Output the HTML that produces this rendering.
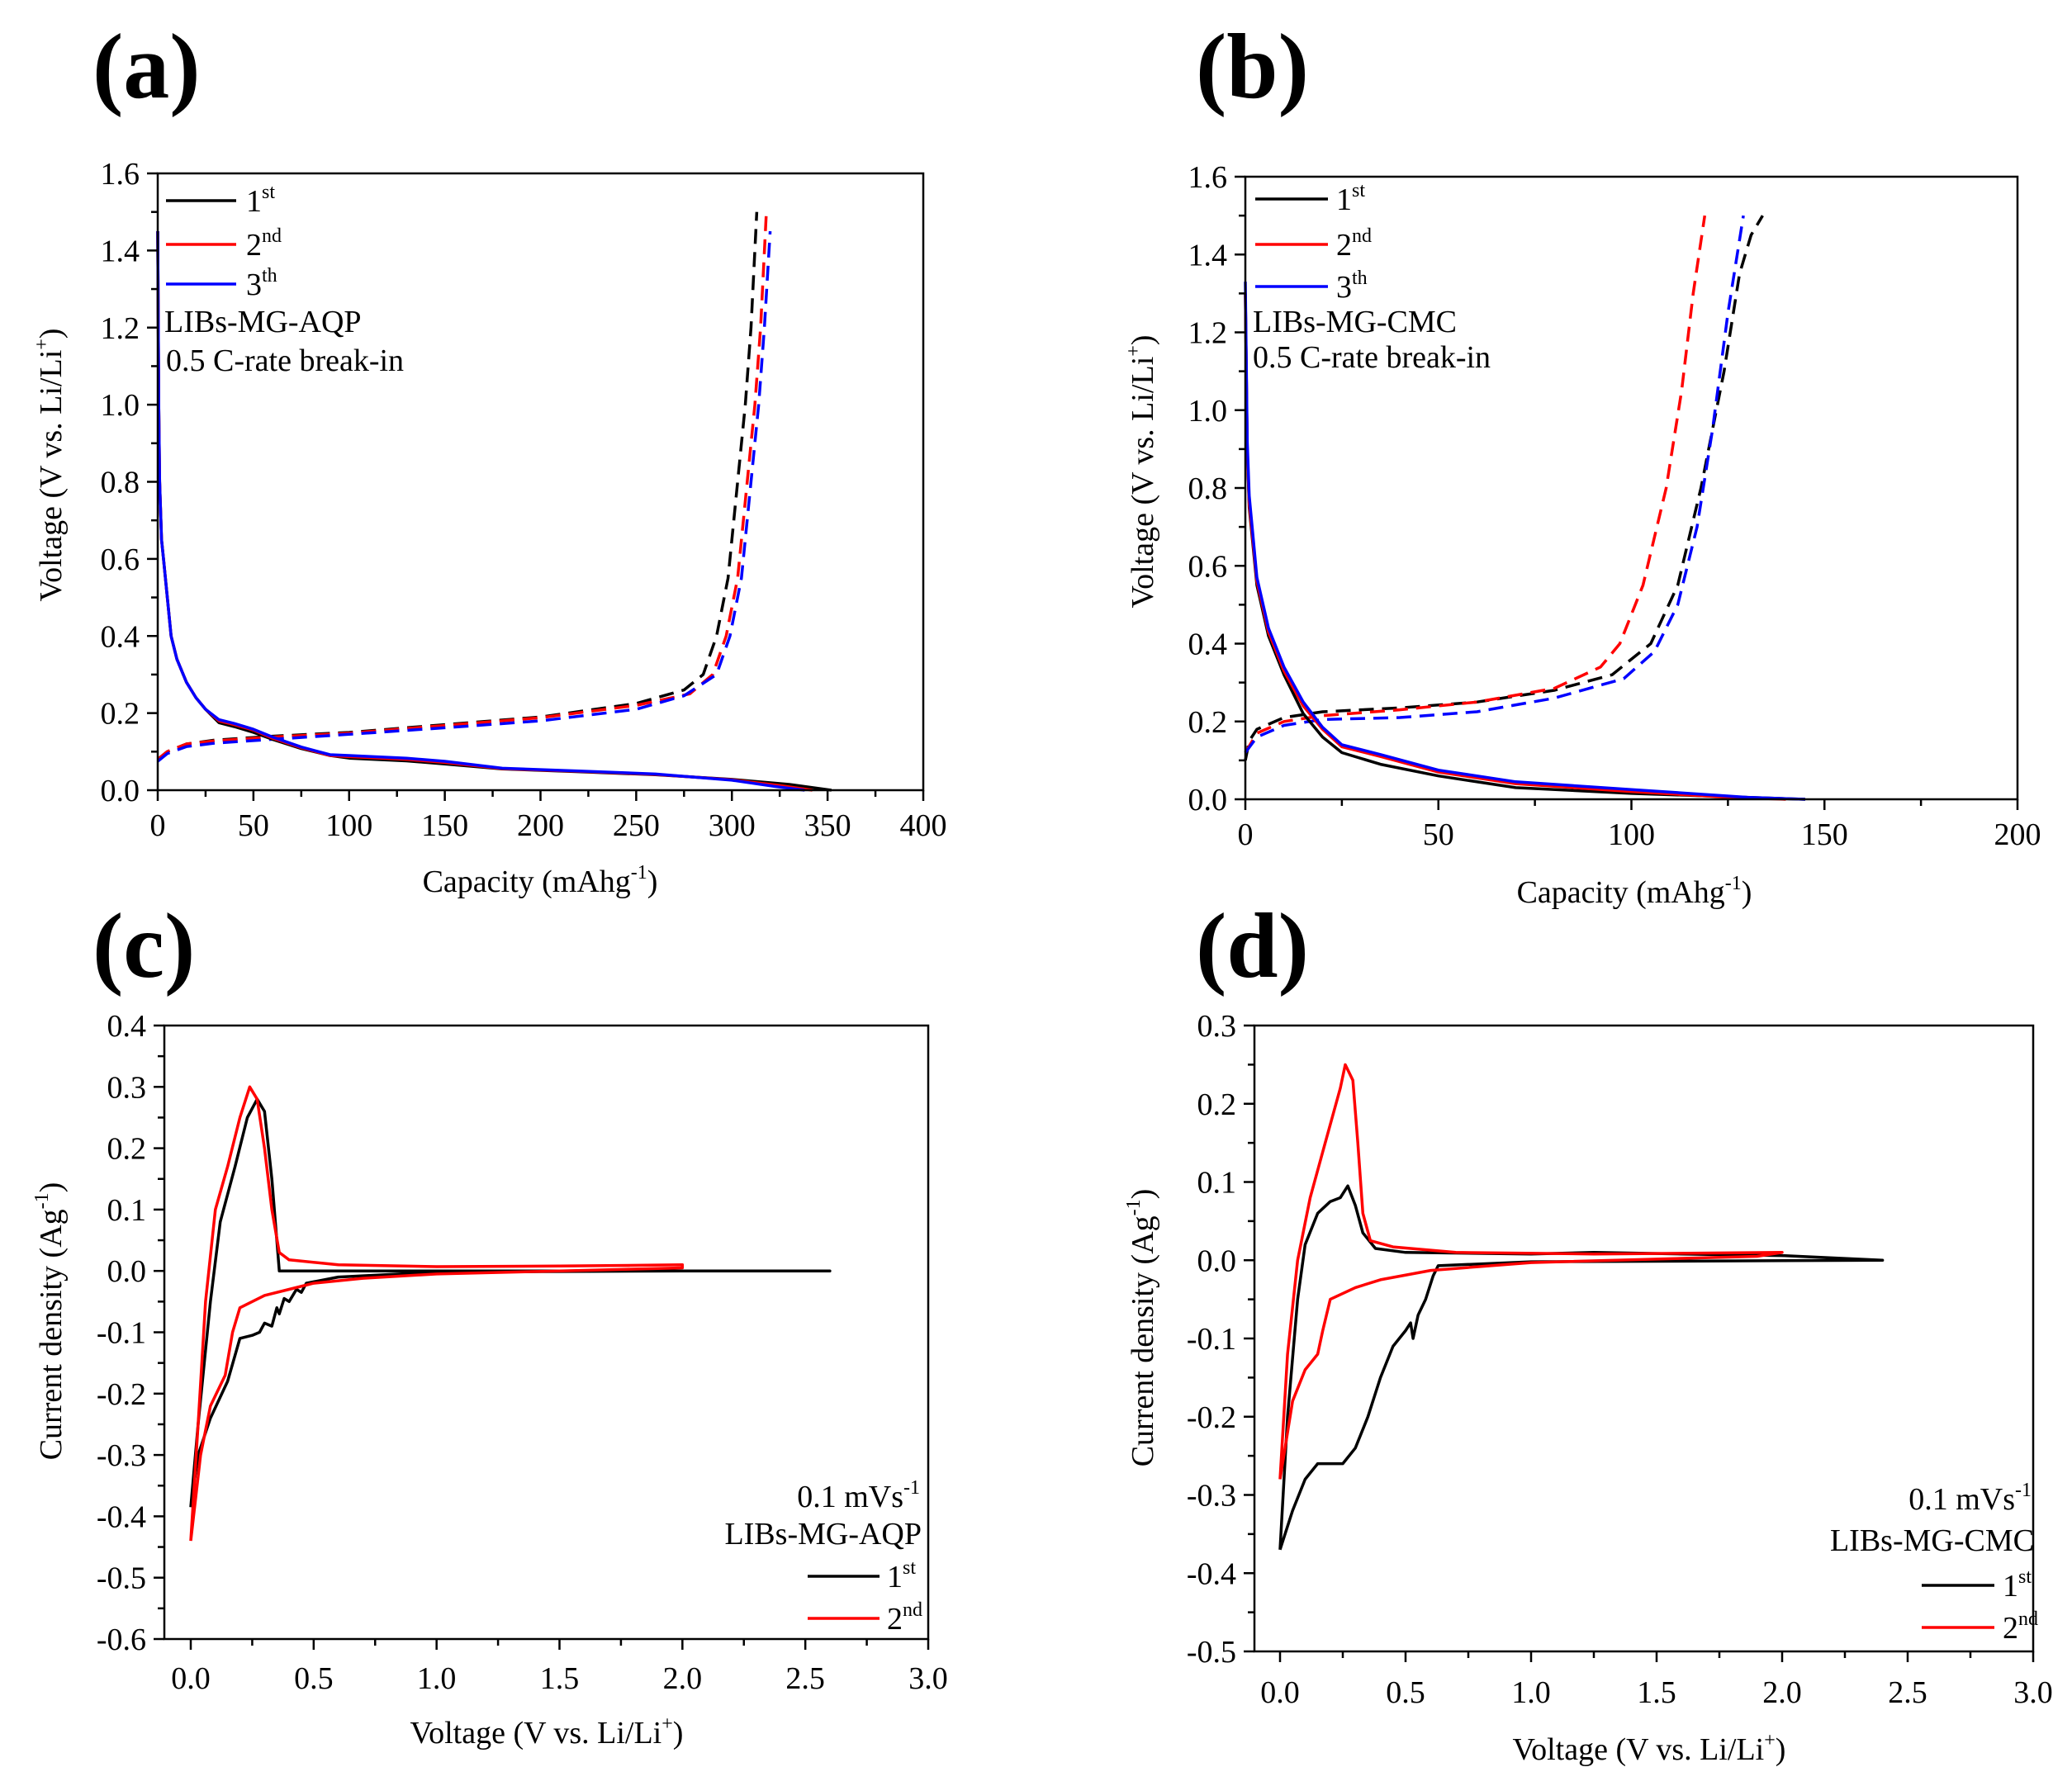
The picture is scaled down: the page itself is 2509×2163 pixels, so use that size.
<!DOCTYPE html>
<html><head><meta charset="utf-8">
<style>
html,body{margin:0;padding:0;background:#fff;}
svg, svg text{font-family:"Liberation Serif",serif;}
svg{display:block;}
</style></head>
<body>
<svg id="fig" width="2509" height="2163" viewBox="0 0 2509 2163" xmlns="http://www.w3.org/2000/svg" font-family="Liberation Serif, serif">
<rect width="2509" height="2163" fill="#fff"/>
<text x="112" y="118" font-size="112" font-weight="bold">(a)</text>
<text x="1448" y="118" font-size="112" font-weight="bold">(b)</text>
<text x="112" y="1183" font-size="112" font-weight="bold">(c)</text>
<text x="1448" y="1183" font-size="112" font-weight="bold">(d)</text>
</svg>
<script>
// ---- Panel (a) data: capacity (mAh/g) vs voltage ----
const aDis1X=[0,0.5,1,2,3,5,7,10,15,20,25,32,40,50,60,75,90,100,130,150,180,220,260,300,330,352];
const aDis1Y=[1.45,1.0,0.8,0.65,0.6,0.5,0.4,0.34,0.28,0.24,0.21,0.175,0.165,0.15,0.132,0.108,0.09,0.083,0.076,0.068,0.055,0.048,0.04,0.028,0.015,0];
const aDis2X=[0,0.5,1,2,3,5,7,10,15,20,25,32,40,50,60,75,90,100,130,150,180,220,260,300,325,342];
const aDis2Y=[1.45,1.0,0.8,0.65,0.6,0.5,0.4,0.34,0.28,0.24,0.21,0.18,0.17,0.156,0.135,0.11,0.09,0.087,0.08,0.072,0.056,0.049,0.041,0.027,0.012,0];
const aDis3X=[0,0.5,1,2,3,5,7,10,15,20,25,32,40,50,60,75,90,100,130,150,180,220,260,300,322,338];
const aDis3Y=[1.45,1.0,0.8,0.65,0.6,0.5,0.4,0.34,0.28,0.24,0.21,0.183,0.173,0.158,0.138,0.112,0.092,0.09,0.083,0.075,0.057,0.05,0.042,0.026,0.01,0];
const aCh1X=[0,5,15,30,60,100,150,200,250,275,285,292,298,303,307,310,313];
const aCh1Y=[0.08,0.1,0.12,0.13,0.14,0.15,0.17,0.19,0.225,0.26,0.3,0.4,0.55,0.8,1.0,1.2,1.5];
const aCh2X=[0,5,15,30,60,100,150,200,250,278,290,297,303,308,312,315,318];
const aCh2Y=[0.08,0.1,0.12,0.128,0.138,0.148,0.168,0.188,0.22,0.25,0.3,0.4,0.55,0.8,1.0,1.2,1.5];
const aCh3X=[0,5,15,30,60,100,150,200,250,275,292,299,305,310,314,317,320];
const aCh3Y=[0.075,0.095,0.113,0.122,0.132,0.145,0.162,0.18,0.21,0.245,0.3,0.4,0.55,0.8,1.0,1.2,1.45];
// ---- Panel (b) data ----
const bDis1X=[0,0.5,1,3,6,10,15,20,25,35,50,70,100,130,145];
const bDis1Y=[1.3,0.9,0.75,0.55,0.42,0.32,0.22,0.16,0.12,0.09,0.06,0.03,0.015,0.005,0];
const bDis2X=[0,0.5,1,3,6,10,15,20,25,35,50,70,100,125,140];
const bDis2Y=[1.3,0.9,0.76,0.56,0.43,0.33,0.24,0.18,0.135,0.11,0.07,0.04,0.02,0.005,0];
const bDis3X=[0,0.5,1,3,6,10,15,20,25,35,50,70,100,130,145];
const bDis3Y=[1.33,0.92,0.78,0.57,0.44,0.34,0.25,0.185,0.14,0.115,0.075,0.045,0.025,0.005,0];
const bCh1X=[0,1,3,10,20,40,60,80,95,105,112,118,124,128,131,134];
const bCh1Y=[0.1,0.15,0.18,0.21,0.225,0.235,0.25,0.28,0.32,0.4,0.55,0.8,1.1,1.35,1.45,1.5];
const bCh2X=[0,3,10,20,40,60,80,92,97,103,109,113,116,119];
const bCh2Y=[0.12,0.17,0.2,0.215,0.23,0.25,0.285,0.34,0.4,0.55,0.8,1.05,1.3,1.5];
const bCh3X=[0,3,10,20,40,60,80,98,106,112,117,121,125,129];
const bCh3Y=[0.12,0.16,0.19,0.205,0.21,0.225,0.26,0.31,0.38,0.5,0.7,0.95,1.25,1.5];
// ---- Panel (c) data: voltage vs current density ----
const cCv1X=[0,0.03,0.08,0.12,0.18,0.23,0.27,0.3,0.33,0.35,0.36,1.0,2.6,2.0,1.0,0.6,0.47,0.45,0.43,0.4,0.38,0.36,0.35,0.33,0.3,0.28,0.25,0.2,0.15,0.08,0.03,0];
const cCv1Y=[-0.385,-0.25,-0.05,0.08,0.17,0.25,0.28,0.26,0.15,0.05,0.0,0.0,0.0,0.0,-0.002,-0.01,-0.02,-0.035,-0.03,-0.05,-0.045,-0.07,-0.06,-0.09,-0.085,-0.1,-0.105,-0.11,-0.18,-0.24,-0.3,-0.385];
const cCv2X=[0,0.03,0.06,0.1,0.15,0.2,0.24,0.27,0.3,0.33,0.36,0.4,0.6,1.0,1.5,2.0,2.0,1.5,1.0,0.7,0.5,0.4,0.3,0.2,0.17,0.14,0.08,0.04,0];
const cCv2Y=[-0.44,-0.25,-0.05,0.1,0.17,0.25,0.3,0.28,0.2,0.1,0.03,0.018,0.01,0.007,0.008,0.01,0.005,0.0,-0.005,-0.012,-0.02,-0.03,-0.04,-0.06,-0.1,-0.17,-0.22,-0.3,-0.44];
// ---- Panel (d) data ----
const dCv1X=[0,0.03,0.07,0.1,0.15,0.2,0.24,0.27,0.3,0.33,0.38,0.5,1.0,1.25,1.6,2.0,2.4,1.0,0.63,0.61,0.58,0.55,0.53,0.52,0.5,0.45,0.4,0.35,0.3,0.25,0.2,0.15,0.1,0.05,0];
const dCv1Y=[-0.37,-0.2,-0.05,0.02,0.06,0.075,0.08,0.095,0.07,0.035,0.015,0.01,0.008,0.01,0.008,0.006,0,-0.002,-0.007,-0.02,-0.05,-0.07,-0.1,-0.08,-0.09,-0.11,-0.15,-0.2,-0.24,-0.26,-0.26,-0.26,-0.28,-0.32,-0.37];
const dCv2X=[0,0.03,0.07,0.12,0.18,0.24,0.26,0.29,0.31,0.33,0.36,0.45,0.7,1.25,2.0,1.9,1.0,0.6,0.4,0.3,0.2,0.17,0.15,0.1,0.05,0];
const dCv2Y=[-0.28,-0.12,0.0,0.08,0.15,0.22,0.25,0.23,0.15,0.06,0.025,0.017,0.01,0.008,0.01,0.005,-0.003,-0.013,-0.025,-0.035,-0.05,-0.09,-0.12,-0.14,-0.18,-0.28];
// ---- tick labels ----
const aXTicks=["0","50","100","150","200","250","300","350","400"];
const aYTicks=["0.0","0.2","0.4","0.6","0.8","1.0","1.2","1.4","1.6"];
const bXTicks=["0","50","100","150","200"];
const bYTicks=["0.0","0.2","0.4","0.6","0.8","1.0","1.2","1.4","1.6"];
const cXTicks=["0.0","0.5","1.0","1.5","2.0","2.5","3.0"];
const cYTicks=["-0.6","-0.5","-0.4","-0.3","-0.2","-0.1","0.0","0.1","0.2","0.3","0.4"];
const dXTicks=["0.0","0.5","1.0","1.5","2.0","2.5","3.0"];
const dYTicks=["-0.5","-0.4","-0.3","-0.2","-0.1","0.0","0.1","0.2","0.3"];

const NS="http://www.w3.org/2000/svg";
const svg=document.getElementById('fig');
function mk(tag,attrs,parent){const e=document.createElementNS(NS,tag);for(const k in attrs)e.setAttribute(k,attrs[k]);(parent||svg).appendChild(e);return e;}
const FF='Liberation Serif, serif';

function panel(p){
  const g=mk('g',{'font-family':FF});
  
  
  const sx=v=>p.px0+(v-p.x0)/(p.x1-p.x0)*(p.px1-p.px0);
  const sy=v=>p.py0+(v-p.y0)/(p.y1-p.y0)*(p.py1-p.py0);
  const L=p.fl, R=p.fr, T=sy(p.y1), B=sy(p.y0);
  p.series.forEach(s=>{
    let d='';s.x.forEach((v,i)=>{d+=(i?'L':'M')+sx(v).toFixed(1)+','+sy(s.y[i]).toFixed(1);});
    const path=mk('path',{d:d,fill:'none',stroke:s.c,'stroke-width':3.5,'stroke-linejoin':'round','stroke-dasharray':s.dash?'18,10':'none'},g);
    
    
  });
  const fr=mk('rect',{x:L,y:T,width:R-L,height:B-T,fill:'none',stroke:'#000','stroke-width':2.5},g);
  
  
  const nx=p.xt.length;
  for(let i=0;i<nx;i++){
    const v=p.x0+i*(p.x1-p.x0)/(nx-1), X=sx(v);
    mk('line',{x1:X,y1:B,x2:X,y2:B+13,stroke:'#000','stroke-width':2.5},g);
    if(i<nx-1){const Xm=sx(v+(p.x1-p.x0)/(nx-1)/2);mk('line',{x1:Xm,y1:B,x2:Xm,y2:B+8,stroke:'#000','stroke-width':2.5},g);}
    const t=mk('text',{x:X,y:B+p.xlo,'font-size':38,'text-anchor':'middle','font-family':FF},g);t.textContent=p.xt[i];
    
    
  }
  const ny=p.yt.length;
  for(let i=0;i<ny;i++){
    const v=p.y0+i*(p.y1-p.y0)/(ny-1), Y=sy(v);
    mk('line',{x1:L-13,y1:Y,x2:L,y2:Y,stroke:'#000','stroke-width':2.5},g);
    if(i<ny-1){const Ym=sy(v+(p.y1-p.y0)/(ny-1)/2);mk('line',{x1:L-8,y1:Ym,x2:L,y2:Ym,stroke:'#000','stroke-width':2.5},g);}
    const t=mk('text',{x:L-22,y:Y+13,'font-size':38,'text-anchor':'end','font-family':FF},g);t.textContent=p.yt[i];
    
    
  }
}

panel({name:'panel-a-chart',x0:0,x1:400,px0:191,px1:1118,y0:0,y1:1.6,py0:957,py1:210,fl:191,fr:1118,xlo:55,xt:aXTicks,yt:aYTicks,series:[
 {x:aCh1X,y:aCh1Y,c:'#000',dash:1,n:'charge-1st'},{x:aCh2X,y:aCh2Y,c:'#f00',dash:1,n:'charge-2nd'},{x:aCh3X,y:aCh3Y,c:'#00f',dash:1,n:'charge-3rd'},
 {x:aDis1X,y:aDis1Y,c:'#000',n:'discharge-1st'},{x:aDis2X,y:aDis2Y,c:'#f00',n:'discharge-2nd'},{x:aDis3X,y:aDis3Y,c:'#00f',n:'discharge-3rd'}]});
panel({name:'panel-b-chart',x0:0,x1:200,px0:1508,px1:2443,y0:0,y1:1.6,py0:968,py1:214,fl:1508,fr:2443,xlo:55,xt:bXTicks,yt:bYTicks,series:[
 {x:bCh1X,y:bCh1Y,c:'#000',dash:1,n:'charge-1st'},{x:bCh2X,y:bCh2Y,c:'#f00',dash:1,n:'charge-2nd'},{x:bCh3X,y:bCh3Y,c:'#00f',dash:1,n:'charge-3rd'},
 {x:bDis1X,y:bDis1Y,c:'#000',n:'discharge-1st'},{x:bDis2X,y:bDis2Y,c:'#f00',n:'discharge-2nd'},{x:bDis3X,y:bDis3Y,c:'#00f',n:'discharge-3rd'}]});
panel({name:'panel-c-chart',x0:0,x1:3,px0:231,px1:1124,y0:-0.6,y1:0.4,py0:1985,py1:1242,fl:199,fr:1124,xlo:60,xt:cXTicks,yt:cYTicks,series:[
 {x:cCv1X,y:cCv1Y,c:'#000',n:'cv-1st'},{x:cCv2X,y:cCv2Y,c:'#f00',n:'cv-2nd'}]});
panel({name:'panel-d-chart',x0:0,x1:3,px0:1550,px1:2462,y0:-0.5,y1:0.3,py0:2000,py1:1242,fl:1519,fr:2462,xlo:62,xt:dXTicks,yt:dYTicks,series:[
 {x:dCv1X,y:dCv1Y,c:'#000',n:'cv-1st'},{x:dCv2X,y:dCv2Y,c:'#f00',n:'cv-2nd'}]});
</script>
<script>
(function(){
const NS="http://www.w3.org/2000/svg",svg=document.getElementById('fig');
const parts=`
<g font-size="38">
<line x1="201" y1="243" x2="286" y2="243" stroke="#000" stroke-width="3.5"/><text x="298" y="256">1<tspan font-size="24" dy="-16">st</tspan></text>
<line x1="201" y1="296" x2="286" y2="296" stroke="#f00" stroke-width="3.5"/><text x="298" y="309">2<tspan font-size="24" dy="-16">nd</tspan></text>
<line x1="201" y1="344" x2="286" y2="344" stroke="#00f" stroke-width="3.5"/><text x="298" y="357">3<tspan font-size="24" dy="-16">th</tspan></text>
<text x="199" y="402">LIBs-MG-AQP</text><text x="201" y="449">0.5 C-rate break-in</text></g>
<g font-size="38">
<line x1="1520" y1="241" x2="1608" y2="241" stroke="#000" stroke-width="3.5"/><text x="1618" y="254">1<tspan font-size="24" dy="-16">st</tspan></text>
<line x1="1520" y1="296" x2="1608" y2="296" stroke="#f00" stroke-width="3.5"/><text x="1618" y="309">2<tspan font-size="24" dy="-16">nd</tspan></text>
<line x1="1520" y1="347" x2="1608" y2="347" stroke="#00f" stroke-width="3.5"/><text x="1618" y="360">3<tspan font-size="24" dy="-16">th</tspan></text>
<text x="1517" y="402">LIBs-MG-CMC</text><text x="1517" y="445">0.5 C-rate break-in</text></g>
<g font-size="38">
<text x="1114" y="1825" text-anchor="end">0.1 mVs<tspan font-size="24" dy="-16">-1</tspan></text>
<text x="1116" y="1870" text-anchor="end">LIBs-MG-AQP</text>
<line x1="978" y1="1909" x2="1065" y2="1909" stroke="#000" stroke-width="3.5"/><text x="1074" y="1922">1<tspan font-size="24" dy="-16">st</tspan></text>
<line x1="978" y1="1960" x2="1065" y2="1960" stroke="#f00" stroke-width="3.5"/><text x="1074" y="1973">2<tspan font-size="24" dy="-16">nd</tspan></text></g>
<g font-size="38">
<text x="2460" y="1828" text-anchor="end">0.1 mVs<tspan font-size="24" dy="-16">-1</tspan></text>
<text x="2463" y="1878" text-anchor="end">LIBs-MG-CMC</text>
<line x1="2327" y1="1920" x2="2415" y2="1920" stroke="#000" stroke-width="3.5"/><text x="2425" y="1933">1<tspan font-size="24" dy="-16">st</tspan></text>
<line x1="2327" y1="1971" x2="2415" y2="1971" stroke="#f00" stroke-width="3.5"/><text x="2425" y="1984">2<tspan font-size="24" dy="-16">nd</tspan></text></g>
<text x="654" y="1080" font-size="38" text-anchor="middle">Capacity (mAhg<tspan font-size="24" dy="-16">-1</tspan><tspan dy="16">)</tspan></text>
<text x="1979" y="1093" font-size="38" text-anchor="middle">Capacity (mAhg<tspan font-size="24" dy="-16">-1</tspan><tspan dy="16">)</tspan></text>
<text x="662" y="2111" font-size="38" text-anchor="middle">Voltage (V vs. Li/Li<tspan font-size="24" dy="-16">+</tspan><tspan dy="16">)</tspan></text>
<text x="1997" y="2131" font-size="38" text-anchor="middle">Voltage (V vs. Li/Li<tspan font-size="24" dy="-16">+</tspan><tspan dy="16">)</tspan></text>
<text transform="translate(74,563) rotate(-90)" font-size="38" text-anchor="middle">Voltage (V vs. Li/Li<tspan font-size="24" dy="-16">+</tspan><tspan dy="16">)</tspan></text>
<text transform="translate(1396,571) rotate(-90)" font-size="38" text-anchor="middle">Voltage (V vs. Li/Li<tspan font-size="24" dy="-16">+</tspan><tspan dy="16">)</tspan></text>
<text transform="translate(74,1600) rotate(-90)" font-size="38" text-anchor="middle">Current density (Ag<tspan font-size="24" dy="-16">-1</tspan><tspan dy="16">)</tspan></text>
<text transform="translate(1396,1608) rotate(-90)" font-size="38" text-anchor="middle">Current density (Ag<tspan font-size="24" dy="-16">-1</tspan><tspan dy="16">)</tspan></text>`;
const g=document.createElementNS(NS,'g');


g.setAttribute('font-family','Liberation Serif, serif');
g.innerHTML=parts;svg.appendChild(g);
})();
</script>
</body></html>
